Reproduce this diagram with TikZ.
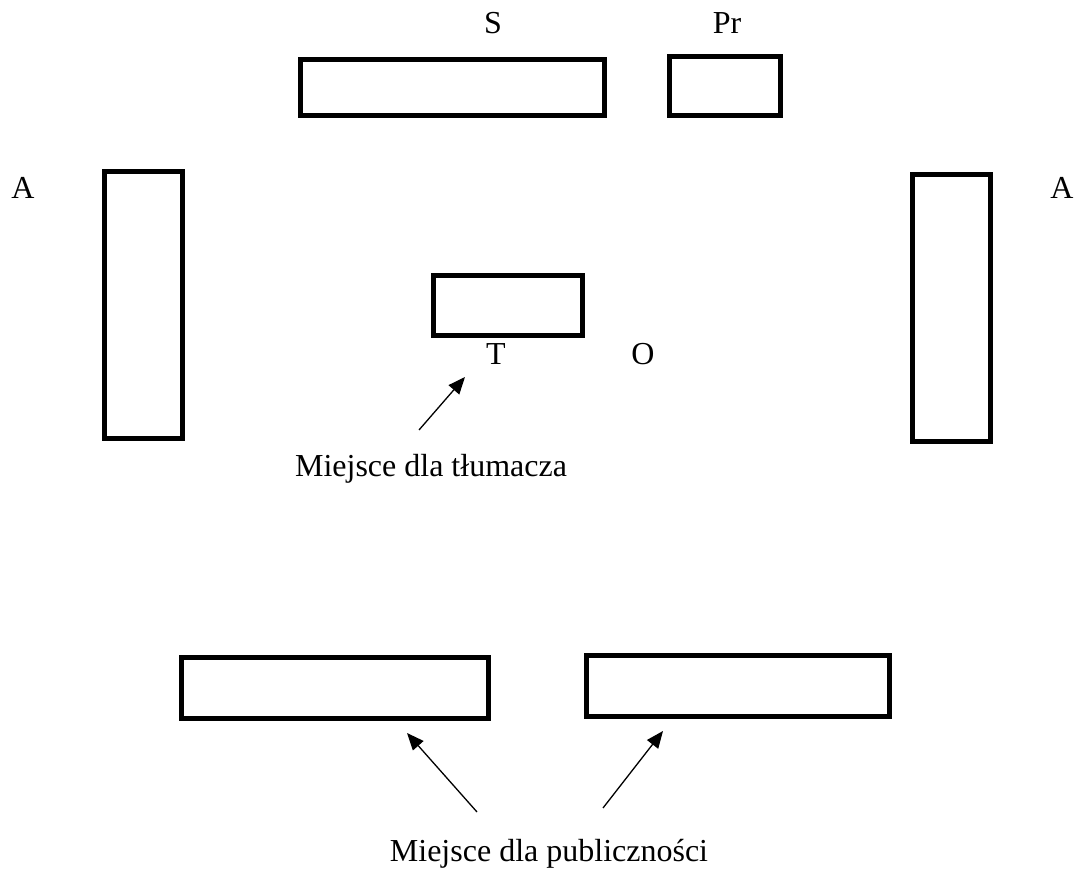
\documentclass[tikz,border=0pt]{standalone}
\usepackage{fontspec}
\setmainfont{Liberation Serif}
\usetikzlibrary{arrows.meta,positioning}

\tikzset{
    miejsce/.style={draw, line width=2.6pt, inner sep=0pt},
    opis/.style={anchor=base, inner sep=0pt, font=\fontsize{16}{19}\selectfont},
    strzalka/.style={-{Triangle[length=8.5pt,width=7pt]}, line width=0.65pt}
}

\begin{document}
\begin{tikzpicture}[x=0.5pt,y=-0.5pt]
            \useasboundingbox (0,0) rectangle (1077,870);

            % stoly
            \node[miejsce, minimum width=152pt, minimum height=28pt] (stolS) at (452.5,87.5) {};
            \node[miejsce, minimum width=55.5pt, minimum height=29.5pt] (stolPr) at (725,86) {};
            \node[miejsce, minimum width=39pt, minimum height=133.5pt] (stolAl) at (143.5,305) {};
            \node[miejsce, minimum width=39pt, minimum height=133.5pt] (stolAp) at (951.5,308) {};
            \node[miejsce, minimum width=74.5pt, minimum height=30pt] (stolT) at (508,305.5) {};
            \node[miejsce, minimum width=153.5pt, minimum height=30.5pt] (lawkaL) at (335,688) {};
            \node[miejsce, minimum width=151.5pt, minimum height=30.5pt] (lawkaP) at (738,686) {};

            % litery
            \node[opis] (S) at (493,34) {S};
            \node[opis] (Pr) at (727,34) {Pr};
            \node[opis] (Al) at (23,199) {A};
            \node[opis] (Ap) at (1062,199) {A};
            \node[opis] (T) at (496,365) {T};
            \node[opis] (O) at (643,365) {O};

            % podpisy
            \node[opis] (tlumacz) at (431,477) {Miejsce dla tłumacza};
            \node[opis] (publika) at (549,862) {Miejsce dla publiczności};

            \coordinate (tT) at (419,430);
            \coordinate (hT) at (465,377);
            \coordinate (tL) at (477,812);
            \coordinate (hL) at (407,733);
            \coordinate (tP) at (603,808);
            \coordinate (hP) at (663,731);

            \draw[strzalka] (tT) -- (hT);
            \draw[strzalka] (tL) -- (hL);
            \draw[strzalka] (tP) -- (hP);

        \end{tikzpicture}
\end{document}
